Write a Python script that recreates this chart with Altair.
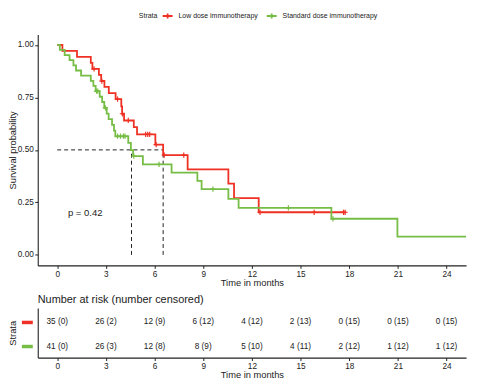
import altair as alt
import pandas as pd

FONT = "Liberation Sans"

strata = ["Low dose immunotherapy", "Standard dose immunotherapy"]
colors = ["#EE3124", "#76BD45"]

# Kaplan-Meier step curves (time in months, survival probability)
low_time = [0, 0.32, 1.22, 2.07, 2.17, 2.57, 2.71, 2.91, 3.18, 3.6, 3.95, 4.0, 4.12,
            4.72, 4.92, 6.05, 6.53, 8.04, 10.55, 10.9, 12.42, 17.75]
low_surv = [1.0, 0.971, 0.943, 0.914, 0.886, 0.857, 0.828, 0.80, 0.77, 0.742, 0.707, 0.672, 0.64,
            0.608, 0.574, 0.525, 0.475, 0.407, 0.339, 0.27, 0.203, 0.203]

std_time = [0, 0.16, 0.46, 0.76, 1.0, 1.16, 1.47, 2.07, 2.23, 2.37, 2.62, 2.77, 2.9,
            3.05, 3.17, 3.38, 3.5, 3.58, 4.38, 4.54, 4.68, 5.28, 7.05, 8.64, 8.9,
            10.55, 11.18, 16.9, 20.97, 25.2]
std_surv = [1.0, 0.976, 0.951, 0.927, 0.902, 0.878, 0.854, 0.829, 0.805, 0.78, 0.753, 0.728, 0.70,
            0.673, 0.646, 0.619, 0.592, 0.565, 0.533, 0.499, 0.47, 0.431, 0.392, 0.352, 0.313,
            0.267, 0.224, 0.172, 0.087, 0.087]

# censoring marks
low_cens_time = [2.27, 2.75, 3.72, 4.02, 4.38, 5.45, 5.58, 5.7, 6.1, 6.6, 7.8, 12.5, 15.84, 17.65, 17.75]
low_cens_surv = [0.886, 0.828, 0.742, 0.672, 0.64, 0.574, 0.574, 0.574, 0.525, 0.475, 0.475, 0.203, 0.203, 0.203, 0.203]
std_cens_time = [2.42, 2.5, 2.97, 3.72, 3.9, 4.08, 4.18, 4.72, 6.28, 9.6, 14.25, 17.0]
std_cens_surv = [0.78, 0.78, 0.70, 0.565, 0.565, 0.565, 0.565, 0.47, 0.431, 0.313, 0.224, 0.172]

medians = [4.58, 6.53]
p_label = "p = 0.42"
p_pos = [0.66, 0.2]

x_ticks = [0, 3, 6, 9, 12, 15, 18, 21, 24]
y_ticks = [0, 0.25, 0.5, 0.75, 1.0]

risk_low = ["35 (0)", "26 (2)", "12 (9)", "6 (12)", "4 (12)", "2 (13)", "0 (15)", "0 (15)", "0 (15)"]
risk_std = ["41 (0)", "26 (3)", "12 (8)", "8 (9)", "5 (10)", "4 (11)", "2 (12)", "1 (12)", "1 (12)"]

# ---------------------------------------------------------------- tables
curves = pd.concat([
    pd.DataFrame({"time": low_time, "surv": low_surv, "strata": strata[0]}),
    pd.DataFrame({"time": std_time, "surv": std_surv, "strata": strata[1]}),
])
cens = pd.concat([
    pd.DataFrame({"time": low_cens_time, "surv": low_cens_surv, "strata": strata[0]}),
    pd.DataFrame({"time": std_cens_time, "surv": std_cens_surv, "strata": strata[1]}),
])
vrules = pd.DataFrame({"x": medians, "y": [0.0] * len(medians), "y2": [0.5] * len(medians)})
hrule = pd.DataFrame({"x": [0.0], "x2": [max(medians)], "y": [0.5]})
ptext = pd.DataFrame({"x": [p_pos[0]], "y": [p_pos[1]], "t": [p_label]})
n_str = len(strata)
risk = pd.concat([
    pd.DataFrame({"time": x_ticks, "strata": strata[0], "row": n_str, "label": risk_low}),
    pd.DataFrame({"time": x_ticks, "strata": strata[1], "row": n_str - 1, "label": risk_std}),
])
rows = pd.DataFrame({"strata": strata, "row": list(range(n_str, 0, -1))})

xscale = alt.Scale(domain=[-1.2, 25.2], nice=False, zero=False)
yscale = alt.Scale(domain=[-0.05, 1.05], nice=False, zero=False)
cscale = alt.Scale(domain=strata, range=colors)

EXT = 20
W = 432
x_axis = alt.Axis(values=x_ticks, title="Time in months", tickSize=3, labelPadding=1,
                  titlePadding=1)

lines = alt.Chart(curves).mark_line(interpolate="step-after", strokeWidth=1.8).encode(
    x=alt.X("time:Q", scale=xscale, axis=x_axis),
    y=alt.Y("surv:Q", scale=yscale,
            axis=alt.Axis(values=y_ticks, format=".2f", title="Survival probability",
                          tickSize=3, labelPadding=1.5, minExtent=EXT, maxExtent=EXT,
                          titlePadding=0)),
    color=alt.Color("strata:N", scale=cscale,
                    legend=alt.Legend(title="Strata", orient="none", legendX=102, legendY=-25,
                                      direction="horizontal", titleOrient="left",
                                      symbolType="M-1,0H1M0,-0.5V0.5", symbolSize=100,
                                      symbolStrokeWidth=1.8, labelFontSize=7, titleFontSize=7,
                                      titleFontWeight="normal", labelOffset=5, columnPadding=4,
                                      titlePadding=4, padding=0, labelFont=FONT, titleFont=FONT,
                                      labelColor="#222", titleColor="#222")),
)
marks = alt.Chart(cens).mark_point(shape="M-1,0H1M0,-1V1", filled=False, size=28,
                                   strokeWidth=1.2, opacity=1).encode(
    x="time:Q", y="surv:Q",
    stroke=alt.Stroke("strata:N", scale=cscale, legend=None),
)
vr = alt.Chart(vrules).mark_rule(strokeDash=[4, 3], color="#222", strokeWidth=1).encode(
    x="x:Q", y="y:Q", y2="y2:Q")
hr = alt.Chart(hrule).mark_rule(strokeDash=[4, 3], color="#222", strokeWidth=1).encode(
    x="x:Q", x2="x2:Q", y="y:Q")
pt = alt.Chart(ptext).mark_text(align="left", baseline="middle", fontSize=9.6, font=FONT,
                                color="#222").encode(x="x:Q", y="y:Q", text="t:N")

top = alt.layer(vr, hr, lines, marks, pt).properties(width=W, height=233)

ry = alt.Y("row:Q", scale=alt.Scale(domain=[0.54, n_str + 0.6], nice=False, zero=False),
           axis=alt.Axis(title="Strata", labels=False, ticks=False, minExtent=EXT,
                         maxExtent=EXT, titlePadding=0))
rtext = alt.Chart(risk).mark_text(fontSize=8.3, font=FONT, color="#222").encode(
    x=alt.X("time:Q", scale=xscale, axis=x_axis),
    y=ry,
    text="label:N",
)
bars = alt.Chart(rows).mark_rule(strokeWidth=3.5).encode(
    x=alt.value(-16), x2=alt.value(-5), y=alt.Y("row:Q"),
    stroke=alt.Stroke("strata:N", scale=cscale, legend=None),
)
table = alt.layer(rtext, bars).properties(
    width=W, height=50,
    title=alt.TitleParams("Number at risk (number censored)", anchor="start", frame="group",
                          fontSize=11, fontWeight="normal", font=FONT, color="#222", offset=3),
)

chart = alt.vconcat(top, table, spacing=7).properties(padding=0).configure_view(
    stroke=None
).configure_axis(
    grid=False, domainColor="#222", domainWidth=1.1, tickColor="#222", tickWidth=1,
    labelFont=FONT, labelFontSize=8.3, labelColor="#222",
    titleFont=FONT, titleFontSize=9.4, titleFontWeight="normal", titleColor="#222",
)

chart.save("out.html", embed_options={"renderer": "svg", "actions": False})
